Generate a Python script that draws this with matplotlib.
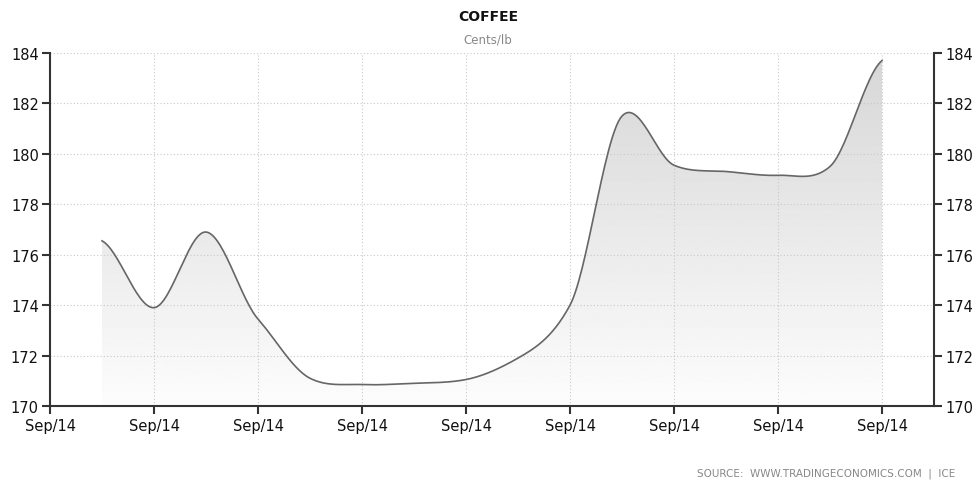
import numpy as np
import matplotlib
matplotlib.use('agg')
from matplotlib import pyplot as plt
from matplotlib.patches import Polygon

# data (one point every half tick step)
xPos = [0.5, 1.0, 1.5, 2.0, 2.5, 3.0, 3.5, 4.0, 4.5, 5.0, 5.5, 6.0, 6.5, 7.0, 7.5, 8.0]
prices = [176.55, 173.9, 176.9, 173.45, 171.1, 170.85, 170.9, 171.05, 171.9, 174.0,
          181.5, 179.55, 179.3, 179.15, 179.5, 183.7]
xTicks = [0, 1, 2, 3, 4, 5, 6, 7, 8]
xTickLabels = ['Sep/14'] * 9
yTicks = [170, 172, 174, 176, 178, 180, 182, 184]


def smoothCurve(xs, ys, nSeg=30, tension=0.8):
    # hermite smoothing between the points, for drawing only
    xs = np.asarray(xs, float)
    ys = np.asarray(ys, float)
    outX, outY = [], []
    n = len(xs)
    for i in range(n - 1):
        p0 = ys[max(i - 1, 0)]
        p1 = ys[i]
        p2 = ys[i + 1]
        p3 = ys[min(i + 2, n - 1)]
        m1 = (p2 - p0) / 2.0 * tension
        m2 = (p3 - p1) / 2.0 * tension
        t = np.linspace(0, 1, nSeg, endpoint=(i == n - 2))
        h00 = 2 * t ** 3 - 3 * t ** 2 + 1
        h10 = t ** 3 - 2 * t ** 2 + t
        h01 = -2 * t ** 3 + 3 * t ** 2
        h11 = t ** 3 - t ** 2
        outY.extend(h00 * p1 + h10 * m1 + h01 * p2 + h11 * m2)
        outX.extend(xs[i] + t * (xs[i + 1] - xs[i]))
    return np.array(outX), np.array(outY)


fig = plt.figure(figsize=(9.76, 4.81), dpi=100)
ax = fig.add_axes([50 / 976., 1 - 407 / 481., 884 / 976., 353 / 481.])

yMin, yMax = 170, 184
sx, sy = smoothCurve(xPos, prices)

# gradient fill under the curve
grad = np.linspace(0.99, 0.84, 256).reshape(-1, 1)
img = ax.imshow(grad, cmap='gray', vmin=0, vmax=1, aspect='auto',
                extent=[xPos[0], xPos[-1], yMin, yMax], origin='lower', zorder=1)
polyPts = np.column_stack([np.r_[sx, sx[-1], sx[0]], np.r_[sy, yMin, yMin]])
clip = Polygon(polyPts, closed=True, facecolor='none', edgecolor='none')
ax.add_patch(clip)
img.set_clip_path(clip)

ax.plot(sx, sy, color='#666666', lw=1.2, zorder=3)

ax.set_xlim(0, 8.5)
ax.set_ylim(yMin, yMax)
ax.set_xticks(xTicks)
ax.set_xticklabels(xTickLabels)
ax.set_yticks(yTicks)
ax.grid(True, color='#c8c8c8', linestyle=(0, (1, 2)), lw=0.8, zorder=0)

for side in ['left', 'right', 'bottom']:
    ax.spines[side].set_color('#333333')
    ax.spines[side].set_linewidth(1.5)
ax.spines['top'].set_visible(False)

ax.tick_params(axis='both', direction='out', length=6, width=1.5, color='#333333',
               labelsize=10.5, labelcolor='#111111')
ax.tick_params(axis='y', left=True, right=True, labelleft=True, labelright=True, pad=2)
ax.tick_params(axis='x', pad=3)

fig.text(0.5, 1 - 17 / 481., 'COFFEE', ha='center', va='center', fontsize=10,
         fontweight='bold', color='#111111')
fig.text(0.5, 1 - 40 / 481., 'Cents/lb', ha='center', va='center', fontsize=8.5,
         color='#888888')
fig.text(955 / 976., 1 - 474 / 481., 'SOURCE:  WWW.TRADINGECONOMICS.COM  |  ICE',
         ha='right', va='center', fontsize=7.5, color='#888888')

fig.savefig('out.png', dpi=100)
